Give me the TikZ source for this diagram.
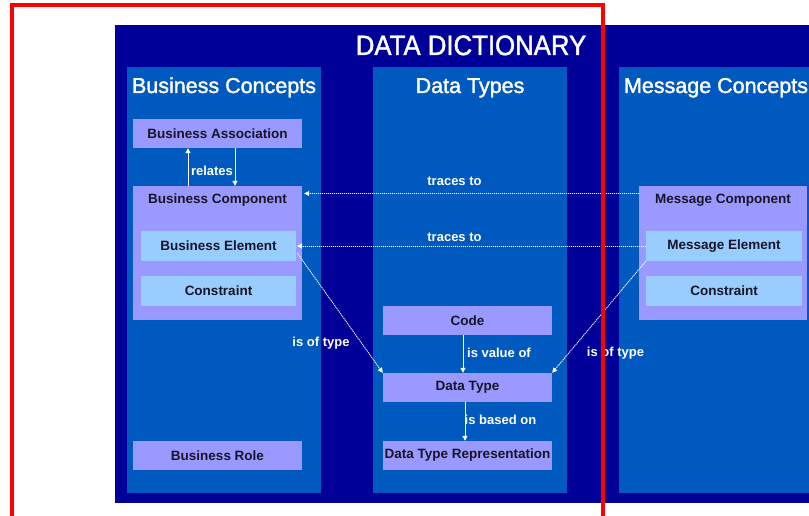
\documentclass[tikz,border=0pt]{standalone}
\usepackage{fontspec}
\setmainfont{Liberation Sans}
\newfontfamily\headfont[FakeBold=1.6]{Liberation Sans}
\usetikzlibrary{arrows.meta,calc}

\definecolor{navy}{RGB}{0,0,153}
\definecolor{colblue}{RGB}{0,89,191}
\definecolor{lavender}{RGB}{153,153,255}
\definecolor{skyblue}{RGB}{153,204,255}
\definecolor{inkdark}{RGB}{22,22,40}
\definecolor{framered}{RGB}{255,0,0}

\tikzset{
  box/.style={fill=lavender, inner sep=0pt, text=inkdark,
    font=\fontsize{13.5}{16}\selectfont\bfseries},
  wide/.style={minimum width=169pt, minimum height=29pt},
  subbox/.style={box, fill=skyblue, minimum height=30pt},
  container/.style={fill=lavender, inner sep=0pt},
  column/.style={fill=colblue},
  coltitle/.style={text=white, inner sep=0pt, anchor=base,
    font=\headfont\fontsize{21.5}{24}\selectfont},
  boxtitle/.style={text=inkdark, inner sep=0pt,
    font=\fontsize{13.5}{16}\selectfont\bfseries},
  lbl/.style={text=white, inner sep=0pt,
    font=\fontsize{13}{15}\selectfont\bfseries},
  tip/.style={-{Triangle[width=5pt,length=5pt]}},
  solidarrow/.style={tip, draw=white, line width=1pt},
  dotarrow/.style={tip, draw=white, fill=white, line width=0.9pt,
    dash pattern=on 1pt off 1pt},
}

\begin{document}
\begin{tikzpicture}[x=1pt,y=-1pt]
\useasboundingbox (0,0) rectangle (809,516);

% dictionary frame and its three columns
\fill[navy] (115,25) rectangle (809,503);
\fill[column] (127,67) rectangle (321,493);
\fill[column] (373,67) rectangle (567,493);
\fill[column] (619,67) rectangle (809,493);

\node[text=white, inner sep=0pt, anchor=base,
  font=\headfont\fontsize{28}{32}\selectfont] (title) at (471,55)
  {\scalebox{0.92}[1]{DATA DICTIONARY}};

\node[coltitle] (bctitle) at (224,93) {Business Concepts};
\node[coltitle] (dttitle) at (470,93) {Data Types};
\node[coltitle] (mctitle) at (716,93) {Message Concepts};

% business concepts
\node[box, wide] (bassoc) at (217.5,133.5) {Business Association};
\node[container, minimum width=169pt, minimum height=134pt] (bcomp) at (217.5,253) {};
\node[boxtitle] (bcomptext) at (217.5,200) {Business Component};
\node[subbox, minimum width=155pt] (belem) at (218.5,246) {Business Element};
\node[subbox, minimum width=155pt] (bcons) at (218.5,291) {Constraint};
\node[box, wide] (brole) at (217.5,455.5) {Business Role};

% data types
\node[box, wide] (code) at (467.5,320.5) {Code};
\node[box, wide] (dtype) at (467.5,387.5) {Data Type};
\node[box, wide] (dtrep) at (467.5,455.5) {Data Type Representation};

% message concepts
\node[container, minimum width=168pt, minimum height=134pt] (mcomp) at (723,253) {};
\node[boxtitle] (mcomptext) at (723,200) {Message Component};
\node[subbox, minimum width=156pt] (melem) at (724,246) {Message Element};
\node[subbox, minimum width=156pt] (mcons) at (724,291) {Constraint};

% relates
\draw[solidarrow] (bcomp.north -| 188,0) -- (bassoc.south -| 188,0);
\draw[solidarrow] (bassoc.south -| 235,0) -- (bcomp.north -| 235,0);
\node[lbl] (relates) at (212,171) {relates};

% traces to
\draw[dotarrow] (mcomp.west |- 0,193.5) -- ([xshift=2pt]bcomp.east |- 0,193.5);
\node[lbl] (traces1) at (454.5,181) {traces to};
\draw[dotarrow] (melem.west) -- ([xshift=1pt]belem.east);
\node[lbl] (traces2) at (454.5,237) {traces to};

% is of type
\draw[dotarrow] ([xshift=1pt,yshift=-7pt]belem.east) -- (dtype.north west);
\node[lbl] (oftype1) at (321,343) {is of type};
\draw[dotarrow] (melem.south west) -- (dtype.north east);
\node[lbl] (oftype2) at (615.5,353) {is of type};

% value and representation
\draw[solidarrow] (code.south -| 463,0) -- (dtype.north -| 463,0);
\node[lbl, anchor=west] (valueof) at (467,353) {is value of};
\draw[solidarrow] (dtype.south -| 465,0) -- (dtrep.north -| 465,0);
\node[lbl, anchor=west] (basedon) at (464.5,420) {is based on};

% red outline
\draw[framered, line width=4pt] (12,516) -- (12,5) -- (603,5) -- (603,516);
\end{tikzpicture}
\end{document}
